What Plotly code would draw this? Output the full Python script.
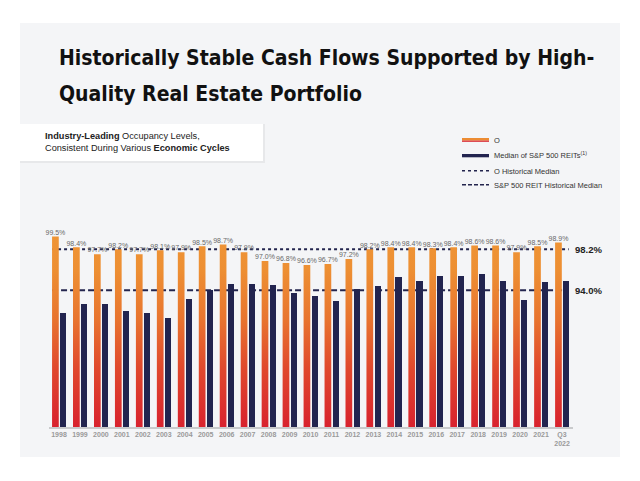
import plotly.graph_objects as go

# ---- data ----
categories = ["1998", "1999", "2000", "2001", "2002", "2003", "2004", "2005", "2006",
              "2007", "2008", "2009", "2010", "2011", "2012", "2013", "2014", "2015",
              "2016", "2017", "2018", "2019", "2020", "2021", "Q3<br>2022"]
o_occupancy = [99.5, 98.4, 97.7, 98.2, 97.7, 98.1, 97.9, 98.5, 98.7, 97.9, 97.0, 96.8,
               96.6, 96.7, 97.2, 98.2, 98.4, 98.4, 98.3, 98.4, 98.6, 98.6, 97.9, 98.5, 98.9]
sp500_reit_median = [91.7, 92.6, 92.6, 91.9, 91.7, 91.2, 93.1, 94.0, 94.6, 94.6, 94.5, 93.7,
                     93.4, 92.9, 94.1, 94.4, 95.4, 95.0, 95.5, 95.5, 95.7, 95.0, 93.0, 94.9, 95.0]
o_hist_median = 98.2
sp_hist_median = 94.0
y_floor = 80

# page body has an 8px margin: map reference pixels to figure pixels
OFF = 8
W, H = 624, 465
def px(x):
    return (x - OFF) / W
def py(y):
    return 1 - (y - OFF) / H

n = len(categories)
idx = list(range(n))

# orange bars as gradient-filled polygons built from the data
ox, oy = [], []
for i, v in enumerate(o_occupancy):
    x0, x1 = i - 0.33, i - 0.01
    ox += [x0, x0, x1, x1, x0, None]
    oy += [y_floor, v, v, y_floor, y_floor, None]

fig = go.Figure()

fig.add_trace(go.Scatter(
    x=ox, y=oy, mode="none", fill="toself", name="O",
    fillgradient=dict(type="vertical",
                      colorscale=[[0, "#d8222e"], [0.3, "#e0482d"], [0.55, "#e8742f"],
                                  [0.8, "#ed8f33"], [1, "#ef9536"]],
                      start=y_floor, stop=100),
    hoverinfo="skip", showlegend=False))

fig.add_trace(go.Bar(
    x=idx, y=sp500_reit_median, width=0.29, offset=0.03,
    marker=dict(color="#22244f", line=dict(width=0)),
    name="Median of S&P 500 REITs", showlegend=False))

fig.add_trace(go.Scatter(
    x=[i - 0.17 for i in idx], y=o_occupancy, mode="text", cliponaxis=False,
    text=[f"{v:.1f}%" for v in o_occupancy], textposition="top center",
    textfont=dict(family="Liberation Sans, Arial, sans-serif", size=7, color="#686868"),
    showlegend=False, hoverinfo="skip"))

shapes = [
    # gray panel
    dict(type="rect", xref="paper", yref="paper", x0=px(20), x1=px(620), y0=py(457), y1=py(23),
         fillcolor="#f4f5f7", line=dict(width=0), layer="below"),
    # subtitle box shadow + box
    dict(type="rect", xref="paper", yref="paper", x0=px(20), x1=px(265), y0=py(163), y1=py(124),
         fillcolor="rgba(0,0,0,0.05)", line=dict(width=0), layer="below"),
    dict(type="rect", xref="paper", yref="paper", x0=px(20), x1=px(263), y0=py(161), y1=py(124),
         fillcolor="white", line=dict(width=0), layer="below"),
    # historical median lines (behind bars)
    dict(type="line", xref="x", yref="y", x0=-0.33, x1=n - 1 + 0.32, y0=o_hist_median, y1=o_hist_median,
         line=dict(color="#23254e", width=2, dash="dot"), layer="below"),
    dict(type="line", xref="x", yref="y", x0=-0.33, x1=n - 1 + 0.32, y0=sp_hist_median, y1=sp_hist_median,
         line=dict(color="#23254e", width=2, dash="6px,3px"), layer="below"),
    # legend swatches
    dict(type="rect", xref="paper", yref="paper", x0=px(462), x1=px(489), y0=py(140.6), y1=py(138),
         fillcolor="#ec8c33", line=dict(width=0)),
    dict(type="rect", xref="paper", yref="paper", x0=px(462), x1=px(489), y0=py(141.8), y1=py(140.6),
         fillcolor="#d8222e", line=dict(width=0)),
    dict(type="rect", xref="paper", yref="paper", x0=px(462), x1=px(489), y0=py(157.3), y1=py(154),
         fillcolor="#22244f", line=dict(width=0)),
    dict(type="line", xref="paper", yref="paper", x0=px(462), x1=px(489), y0=py(170.7), y1=py(170.7),
         line=dict(color="#23254e", width=1.5, dash="dot")),
    dict(type="line", xref="paper", yref="paper", x0=px(462), x1=px(489), y0=py(184.7), y1=py(184.7),
         line=dict(color="#23254e", width=1.5, dash="4px,2px")),
]

title_font = dict(family="DejaVu Sans Condensed, Liberation Sans Narrow, Arial Narrow, sans-serif",
                  size=21, color="#111111", weight="bold")
body_font = "Liberation Sans, Arial, sans-serif"
annotations = [
    dict(text="Historically Stable Cash Flows Supported by High-", x=px(57), y=py(72),
         xref="paper", yref="paper", xanchor="left", yanchor="bottom", showarrow=False, font=title_font),
    dict(text="Quality Real Estate Portfolio", x=px(57), y=py(108),
         xref="paper", yref="paper", xanchor="left", yanchor="bottom", showarrow=False, font=title_font),
    dict(text="<b>Industry-Leading</b> Occupancy Levels,<br>Consistent During Various <b>Economic Cycles</b>",
         x=px(43), y=py(142), xref="paper", yref="paper", xanchor="left", yanchor="middle",
         align="left", showarrow=False, font=dict(family=body_font, size=9.2, color="#222222")),
    dict(text="O", x=px(492), y=py(140), xref="paper", yref="paper", xanchor="left", yanchor="middle",
         showarrow=False, font=dict(family=body_font, size=7.5, color="#333333")),
    dict(text="Median of S&P 500 REITs<sup>(1)</sup>", x=px(492), y=py(154.5), xref="paper", yref="paper",
         xanchor="left", yanchor="middle", showarrow=False,
         font=dict(family=body_font, size=7.5, color="#333333")),
    dict(text="O Historical Median", x=px(492), y=py(171), xref="paper", yref="paper", xanchor="left",
         yanchor="middle", showarrow=False, font=dict(family=body_font, size=7.5, color="#333333")),
    dict(text="S&P 500 REIT Historical Median", x=px(492), y=py(185.5), xref="paper", yref="paper",
         xanchor="left", yanchor="middle", showarrow=False,
         font=dict(family=body_font, size=7.5, color="#333333")),
    dict(text=f"<b>{o_hist_median:.1f}%</b>", x=px(588), y=o_hist_median, xref="paper", yref="y",
         xanchor="center", yanchor="middle", showarrow=False,
         font=dict(family=body_font, size=9.5, color="#222222")),
    dict(text=f"<b>{sp_hist_median:.1f}%</b>", x=px(588), y=sp_hist_median, xref="paper", yref="y",
         xanchor="center", yanchor="middle", showarrow=False,
         font=dict(family=body_font, size=9.5, color="#222222")),
]

px_per_unit = (427 - 249.3) / (o_hist_median - y_floor)
y_top = y_floor + (427 - 222) / px_per_unit

fig.update_layout(
    width=W, height=H, margin=dict(l=0, r=0, t=0, b=0),
    paper_bgcolor="white", plot_bgcolor="rgba(0,0,0,0)",
    showlegend=False, bargap=0,
    shapes=shapes, annotations=annotations,
    xaxis=dict(domain=[px(48.5), px(572.5)], range=[-0.5, n - 0.5],
               tickmode="array", tickvals=idx, ticktext=[f"<b>{c}</b>" for c in categories],
               tickfont=dict(family=body_font, size=7, color="#9a9a9a"),
               showgrid=False, zeroline=False, showline=True, linecolor="#c9cacc", linewidth=1.5,
               ticks="", fixedrange=True),
    yaxis=dict(domain=[py(427), py(222)], range=[y_floor, y_top], visible=False,
               showgrid=False, zeroline=False, fixedrange=True),
)

fig.write_html("out.html")
